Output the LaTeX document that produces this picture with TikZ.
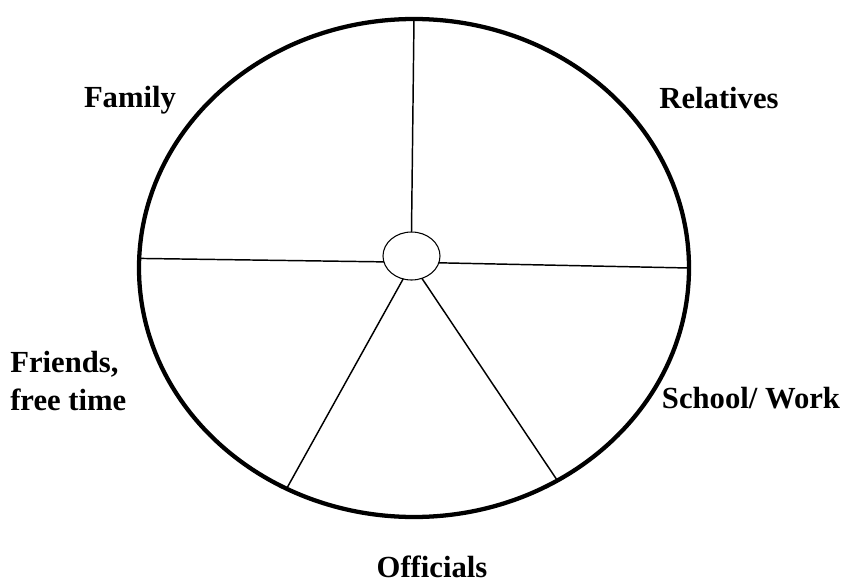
\documentclass[tikz,border=0pt]{standalone}
\usepackage{fontspec}
\setmainfont{Liberation Serif}
\usetikzlibrary{shapes.geometric}

\begin{document}
\begin{tikzpicture}[x=0.75pt, y=-0.75pt,
  lab/.style={font=\bfseries\fontsize{23}{28.5}\selectfont, inner sep=0pt},
  spoke/.style={line width=1.1pt}]
\useasboundingbox (0,0) rectangle (844,582);
\node[ellipse, draw, line width=3.2pt, minimum width=412.5pt, minimum height=373.5pt, inner sep=0pt, outer sep=0pt] (rim) at (414,268) {};
\node[ellipse, draw, line width=0.8pt, minimum width=42.75pt, minimum height=36pt, inner sep=0pt, outer sep=0pt] (hub) at (411.5,256) {};
\draw[spoke] (hub.north) -- (rim.north);
\draw[spoke] (hub.192) -- (rim.178.5);
\draw[spoke] (hub.-14) -- (rim.0.4);
\draw[spoke] (hub.250) -- (rim.240);
\draw[spoke] (hub.-65) -- (rim.-56);
\node[lab, anchor=base] (family) at (130,107) {Family};
\node[lab, anchor=base] (relatives) at (719,108) {Relatives};
\node[lab, anchor=base west, align=left] (friends) at (10,410) {Friends,\\free time};
\node[lab, anchor=base] (school) at (751,408) {School/ Work};
\node[lab, anchor=base] (officials) at (432,577) {Officials};
\end{tikzpicture}
\end{document}
